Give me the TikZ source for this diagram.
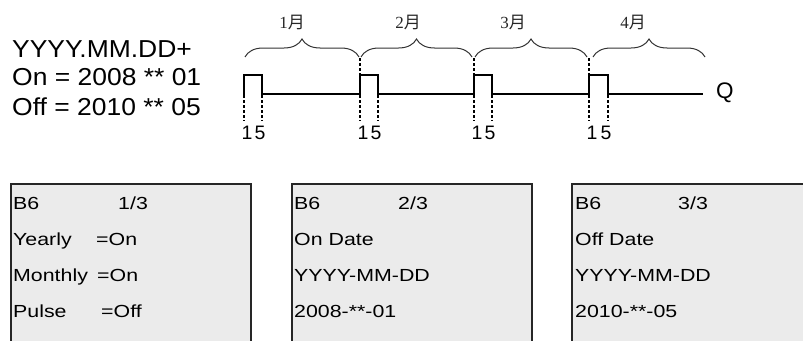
\documentclass[tikz,border=0pt]{standalone}
\usepackage{fontspec}
\setmainfont{Liberation Sans}
\newfontfamily\boxf[FakeStretch=1.22]{Liberation Sans}
\newfontfamily\topf[FakeStretch=1.08]{Liberation Sans}
\newfontfamily\cjk{Noto Sans CJK SC}
\newfontfamily\serf{Liberation Serif}
\usetikzlibrary{decorations.pathreplacing}
\definecolor{boxgray}{HTML}{EBEBEB}
\tikzset{
  boxframe/.style={draw=black!85, line width=1.3pt},
  boxtxt/.style={anchor=base west, inner sep=0pt, font=\boxf\fontsize{17.5}{20}\selectfont},
  toptxt/.style={anchor=base west, inner sep=0pt, font=\topf\fontsize{24.5}{28}\selectfont},
  wave/.style={line width=2pt, line join=miter, line cap=rect},
  dashline/.style={line width=1.4pt, dash pattern=on 3pt off 2pt},
  digit/.style={anchor=base, inner sep=0pt, font=\fontsize{19.5}{22}\selectfont},
  monthbrace/.style={decorate, decoration={brace, amplitude=18pt}, line width=1pt, draw=black!80},
  monthlbl/.style={inner sep=0pt, font=\fontsize{17}{20}\selectfont, text=black!85},
}
\begin{document}
\begin{tikzpicture}[x=1pt, y=-1pt]
\useasboundingbox (0,0) rectangle (803,340);
% top-left text
\node[toptxt] (t1) at (12,57) {YYYY.MM.DD+};
\node[toptxt] (t2) at (12,85) {On = 2008 ** 01};
\node[toptxt] (t3) at (12,115) {Off = 2010 ** 05};
% waveform
\draw[wave] (244,94) -- (244,75) -- (262,75) -- (262,94) -- (360,94) -- (360,75) -- (378,75) -- (378,94)
  -- (474,94) -- (474,75) -- (492,75) -- (492,94) -- (589,94) -- (589,75) -- (608,75) -- (608,94) -- (702,94);
\node[inner sep=0pt, anchor=base west, font=\fontsize{22.5}{26}\selectfont] (q) at (716,98) {Q};
% dashed markers
\foreach \r/\f in {244/262, 360/378, 474/492, 589/608}{
  \draw[dashline] (\r,95) -- (\r,121);
  \draw[dashline] (\f,95) -- (\f,121);
  \node[digit] at (\r+3,139) {1};
  \node[digit] at (\f-2,139) {5};
}
\foreach \r in {360, 474, 589}{
  \draw[dashline] (\r,58) -- (\r,95);
}
% braces
\draw[monthbrace] (245,57) -- (359,57);
\draw[monthbrace] (361,57) -- (472,57);
\draw[monthbrace] (475,57) -- (587,57);
\draw[monthbrace] (593,57) -- (705,57);
\node[monthlbl] (m1) at (292,22) {{\serf 1}{\cjk 月}};
\node[monthlbl] (m2) at (408,22) {{\serf 2}{\cjk 月}};
\node[monthlbl] (m3) at (513,22) {{\serf 3}{\cjk 月}};
\node[monthlbl] (m4) at (633,22) {{\serf 4}{\cjk 月}};
% boxes
\fill[boxgray] (11,184) rectangle (251,341);
\draw[boxframe] (11,341) -- (11,184) -- (251,184) -- (251,341);
\fill[boxgray] (292,184) rectangle (532,341);
\draw[boxframe] (292,341) -- (292,184) -- (532,184) -- (532,341);
\fill[boxgray] (572,184) rectangle (804,341);
\draw[boxframe] (572,341) -- (572,184) -- (804,184);
% box 1 text
\node[boxtxt] (a1) at (13,209) {B6};
\node[boxtxt] (a2) at (118,209) {1/3};
\node[boxtxt] (a3) at (13,245) {Yearly};
\node[boxtxt] (a4) at (96,245) {=On};
\node[boxtxt] (a5) at (13,281) {Monthly};
\node[boxtxt] (a6) at (97,281) {=On};
\node[boxtxt] (a7) at (13,317) {Pulse};
\node[boxtxt] (a8) at (101,317) {=Off};
% box 2 text
\node[boxtxt] (b1) at (294,209) {B6};
\node[boxtxt] (b2) at (398,209) {2/3};
\node[boxtxt] (b3) at (294,245) {On Date};
\node[boxtxt] (b4) at (294,281) {YYYY-MM-DD};
\node[boxtxt] (b5) at (294,317) {2008-**-01};
% box 3 text
\node[boxtxt] (c1) at (575,209) {B6};
\node[boxtxt] (c2) at (678,209) {3/3};
\node[boxtxt] (c3) at (575,245) {Off Date};
\node[boxtxt] (c4) at (575,281) {YYYY-MM-DD};
\node[boxtxt] (c5) at (575,317) {2010-**-05};
\end{tikzpicture}
\end{document}
